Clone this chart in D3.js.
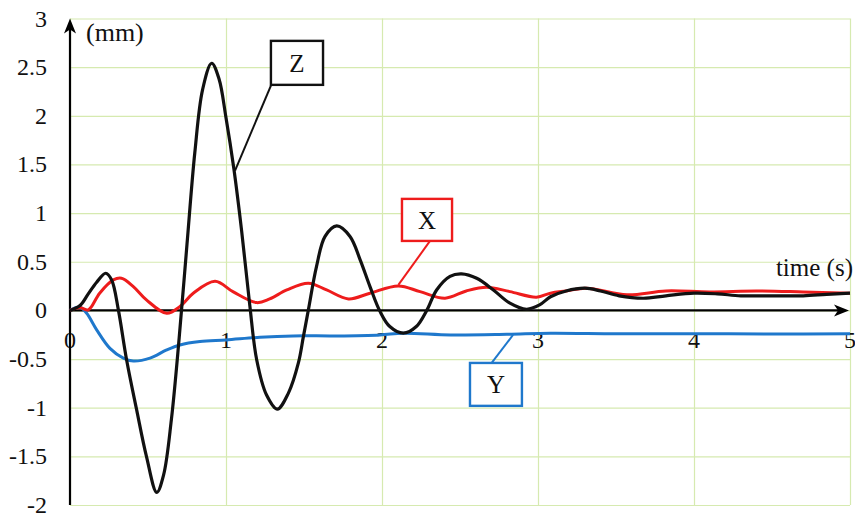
<!DOCTYPE html>
<html>
<head>
<meta charset="utf-8">
<script src="https://cdn.jsdelivr.net/npm/d3@7"></script>
<style>
  body { margin: 0; background: #fff; }
  svg { display: block; }
</style>
</head>
<body>
<script>
// time (s) and displacement (mm)
var zTime = [0, 0.064, 0.117, 0.171, 0.229, 0.267, 0.31, 0.363, 0.427, 0.49, 0.556, 0.60, 0.65, 0.70, 0.75,
  0.80, 0.85, 0.908, 0.955, 1.0, 1.05, 1.10, 1.152, 1.197, 1.26, 1.329, 1.40, 1.464,
  1.496, 1.528, 1.58, 1.635, 1.71, 1.795, 1.86, 1.923, 1.987, 2.05, 2.137, 2.22, 2.287, 2.35, 2.436, 2.51, 2.607,
  2.714, 2.82, 2.927, 3.01, 3.08, 3.18, 3.30, 3.40, 3.52, 3.675, 3.82, 4.0, 4.15, 4.3, 4.5, 4.7, 4.85, 5.0];
var zValue = [0, 0.05, 0.17, 0.29, 0.382, 0.313, 0.005, -0.51, -1.02, -1.5, -1.87, -1.69, -1.12, -0.28, 0.68,
  1.62, 2.27, 2.54, 2.38, 1.98, 1.46, 0.82, 0.06, -0.51, -0.87, -1.015, -0.85, -0.54,
  -0.27, 0.005, 0.45, 0.76, 0.868, 0.76, 0.52, 0.245, -0.01, -0.166, -0.234, -0.166, 0.0, 0.21, 0.35, 0.375, 0.33,
  0.21, 0.074, 0.012, 0.056, 0.14, 0.2, 0.228, 0.2, 0.15, 0.125, 0.15, 0.177, 0.17, 0.15, 0.15, 0.15, 0.165, 0.177];

var xTime = [0, 0.064, 0.117, 0.19, 0.278, 0.33, 0.406, 0.49, 0.62, 0.705, 0.79, 0.93, 1.047, 1.197, 1.28, 1.39,
  1.528, 1.645, 1.785, 1.923, 2.105, 2.244, 2.404, 2.54, 2.67, 2.82, 2.99, 3.08, 3.18, 3.31, 3.57, 3.82, 4.1, 4.4,
  4.7, 5.0];
var xValue = [0, 0.03, 0.005, 0.177, 0.313, 0.33, 0.245, 0.108, -0.03, 0.04, 0.177, 0.30, 0.19, 0.08, 0.118, 0.21,
  0.28, 0.21, 0.118, 0.177, 0.252, 0.193, 0.125, 0.2, 0.238, 0.193, 0.136, 0.177, 0.2, 0.228, 0.16, 0.2, 0.19, 0.2,
  0.19, 0.177];

var yTime = [0, 0.064, 0.107, 0.171, 0.256, 0.342, 0.406, 0.513, 0.62, 0.705, 0.833, 1.0, 1.218, 1.43, 1.71,
  1.987, 2.137, 2.44, 2.8, 3.08, 3.5, 4.0, 4.5, 5.0];
var yValue = [0, 0.033, -0.03, -0.2, -0.39, -0.49, -0.52, -0.49, -0.406, -0.355, -0.32, -0.303, -0.276, -0.262,
  -0.262, -0.252, -0.234, -0.252, -0.245, -0.234, -0.24, -0.24, -0.242, -0.24];

var xTicks = [0, 1, 2, 3, 4, 5];
var yTicks = [-2, -1.5, -1, -0.5, 0, 0.5, 1, 1.5, 2, 2.5, 3];
var yTickLabels = ["-2", "-1.5", "-1", "-0.5", "0", "0.5", "1", "1.5", "2", "2.5", "3"];

// callout boxes: [t0, t1, v0, v1], text, leader start and end in data units
var labelNames = ["Z", "X", "Y"];
var labelBoxes = [[1.288, 1.622, 2.318, 2.77], [2.128, 2.449, 0.714, 1.146], [2.564, 2.897, -0.981, -0.54]];
var labelLeaders = [[[1.29, 2.318], [1.058, 1.437]], [[2.308, 0.714], [2.105, 0.262]], [[2.703, -0.54], [2.84, -0.252]]];
var labelColors = ["#111111", "#ee1c1c", "#1f78cc"];

var serif = "Liberation Serif";

window.onload = () => {
  var width = 855, height = 518;

  var x = d3.scaleLinear().domain([0, 5]).range([70, 850]);
  var y = d3.scaleLinear().domain([-2, 3]).range([505, 18.5]);

  var svg = d3.select("body").append("svg")
    .attr("width", width)
    .attr("height", height)
    .attr("font-family", serif);

  // grid
  svg.append("g")
    .attr("transform", "translate(0," + y(-2) + ")")
    .call(d3.axisBottom(x).tickValues(xTicks).tickSize(-(y(-2) - y(3))).tickFormat(""))
    .call(g => g.select(".domain").remove())
    .call(g => g.selectAll("line").attr("stroke", "#d6eab0").attr("stroke-width", 1.2));
  svg.append("g")
    .attr("transform", "translate(" + x(0) + ",0)")
    .call(d3.axisLeft(y).tickValues(yTicks).tickSize(-(x(5) - x(0))).tickFormat(""))
    .call(g => g.select(".domain").remove())
    .call(g => g.selectAll("line").attr("stroke", "#d6eab0").attr("stroke-width", 1.2));

  // y tick labels
  svg.append("g").selectAll("text")
    .data(yTicks)
    .enter().append("text")
    .attr("x", 47)
    .attr("y", d => y(d) + 8)
    .attr("text-anchor", "end")
    .attr("font-family", serif)
    .attr("font-size", 24)
    .attr("fill", "#111")
    .text((d, i) => yTickLabels[i]);

  // x tick labels, hanging under the axis
  svg.append("g").selectAll("text")
    .data(xTicks)
    .enter().append("text")
    .attr("x", d => x(d))
    .attr("y", y(0) + 38)
    .attr("text-anchor", "middle")
    .attr("font-family", serif)
    .attr("font-size", 24)
    .attr("fill", "#111")
    .text(d => d);

  // axes with arrows
  svg.append("line")
    .attr("x1", x(0)).attr("x2", x(0))
    .attr("y1", y(-2)).attr("y2", y(3) + 10)
    .attr("stroke", "#000").attr("stroke-width", 2.2);
  svg.append("path")
    .attr("d", "M" + x(0) + "," + y(3) + "l-6,15l6,-4l6,4z")
    .attr("fill", "#000");
  svg.append("line")
    .attr("x1", x(0)).attr("x2", x(5) - 10)
    .attr("y1", y(0)).attr("y2", y(0))
    .attr("stroke", "#000").attr("stroke-width", 2.2);
  svg.append("path")
    .attr("d", "M" + (x(5) - 1) + "," + y(0) + "l-15,-6l4,6l-4,6z")
    .attr("fill", "#000");

  svg.append("text").attr("x", 86).attr("y", 41).attr("font-size", 26).attr("fill", "#111").text("(mm)");
  svg.append("text").attr("x", 853).attr("y", 276).attr("font-size", 25).attr("fill", "#111")
    .attr("text-anchor", "end").text("time (s)");

  var line = d3.line()
    .x(d => x(d[0]))
    .y(d => y(d[1]))
    .curve(d3.curveCatmullRom.alpha(0.5));

  var series = [
    { t: yTime, v: yValue, color: labelColors[2], w: 3 },
    { t: xTime, v: xValue, color: labelColors[1], w: 3 },
    { t: zTime, v: zValue, color: labelColors[0], w: 3.2 }
  ];

  series.forEach(s => {
    svg.append("path")
      .datum(s.t.map((t, i) => [t, s.v[i]]))
      .attr("fill", "none")
      .attr("stroke", s.color)
      .attr("stroke-width", s.w)
      .attr("stroke-linejoin", "round")
      .attr("d", line);
  });

  // callouts
  labelNames.forEach((name, i) => {
    var b = labelBoxes[i], l = labelLeaders[i];
    svg.append("line")
      .attr("x1", x(l[0][0])).attr("y1", y(l[0][1]))
      .attr("x2", x(l[1][0])).attr("y2", y(l[1][1]))
      .attr("stroke", labelColors[i]).attr("stroke-width", 2);
    svg.append("rect")
      .attr("x", x(b[0])).attr("y", y(b[3]))
      .attr("width", x(b[1]) - x(b[0])).attr("height", y(b[2]) - y(b[3]))
      .attr("fill", "#fff")
      .attr("stroke", labelColors[i]).attr("stroke-width", 2.4);
    svg.append("text")
      .attr("x", (x(b[0]) + x(b[1])) / 2)
      .attr("y", (y(b[2]) + y(b[3])) / 2 + 9)
      .attr("text-anchor", "middle")
      .attr("font-size", 25)
      .attr("fill", "#111")
      .text(name);
  });
};
</script>
</body>
</html>
